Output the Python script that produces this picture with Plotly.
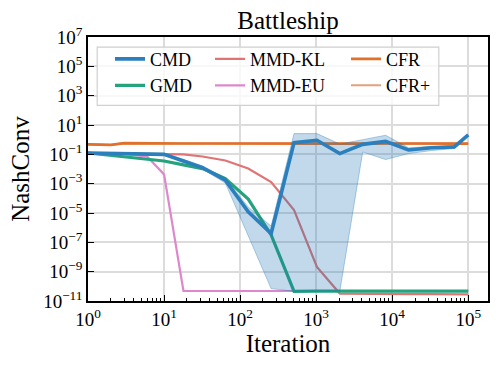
import plotly.graph_objects as go

# iterations at which NashConv was logged
iters = [1, 2, 3, 6, 10, 18, 32, 64, 128, 256, 512, 1024, 2048, 4096, 8192, 16384, 32768, 65536, 100000]

cmd = [0.123, 0.120, 0.117, 0.110, 0.100, 0.035, 0.0126, 1.7e-3, 1.2e-5, 4.0e-7,
       0.63, 0.91, 0.112, 0.48, 0.76, 0.20, 0.28, 0.32, 2.1]
cmd_hi = [0.132, 0.129, 0.126, 0.120, 0.110, 0.045, 0.016, 2.5e-3, 2.5e-5, 1.3e-6,
          2.6, 2.6, 0.5, 1.0, 2.0, 0.28, 0.35, 0.38, 2.2]
cmd_lo = [0.115, 0.112, 0.110, 0.100, 0.089, 0.028, 0.010, 1.1e-3, 2.5e-7, 7e-11,
          4.6e-11, 4.6e-11, 4.6e-11, 0.145, 0.044, 0.112, 0.18, 0.25, 2.0]
gmd = [0.123, 0.085, 0.069, 0.047, 0.035, 0.019, 0.0107, 2.2e-3, 8.9e-5, 3.2e-7,
       4.6e-11, 4.7e-11, 4.7e-11, 4.7e-11, 4.7e-11, 4.7e-11, 4.7e-11, 4.7e-11, 4.7e-11]
mmd_kl = [0.123, 0.120, 0.118, 0.114, 0.112, 0.100, 0.071, 0.038, 0.0107, 1.3e-3,
          1.6e-5, 2.1e-9, 3.2e-11, 3.0e-11, 3.0e-11, 2.9e-11, 2.9e-11, 2.8e-11, 2.8e-11]
mmd_eu = [0.123, 0.118, 0.110, 0.07, 4.3e-3, 4.8e-11, 4.8e-11, 4.8e-11, 4.8e-11, 4.8e-11,
          4.8e-11, 4.8e-11, 4.8e-11, 4.8e-11, 4.8e-11, 4.8e-11, 4.8e-11, 4.8e-11, 4.8e-11]
cfr = [0.48, 0.44, 0.58, 0.55, 0.58, 0.55, 0.55, 0.54, 0.55, 0.54,
       0.54, 0.55, 0.54, 0.54, 0.55, 0.54, 0.54, 0.54, 0.54]
cfr_plus = [0.48, 0.44, 0.58, 0.55, 0.58, 0.55, 0.55, 0.54, 0.55, 0.54,
            0.54, 0.55, 0.54, 0.54, 0.55, 0.54, 0.54, 0.54, 0.54]

x_exp = [0, 1, 2, 3, 4, 5]
y_exp = [7, 5, 3, 1, -1, -3, -5, -7, -9, -11]

FONT = "Liberation Serif"

fig = go.Figure()
# drawn back to front
fig.add_trace(go.Scatter(x=iters, y=cfr_plus, name='CFR+', mode='lines',
                         line=dict(color='#e3a07c', width=2), legend='legend3', legendrank=2))
fig.add_trace(go.Scatter(x=iters, y=cfr, name='CFR', mode='lines',
                         line=dict(color='#e0702a', width=2.6), legend='legend3', legendrank=1))
fig.add_trace(go.Scatter(x=iters, y=mmd_eu, name='MMD-EU', mode='lines',
                         line=dict(color='#dd88cc', width=2.2), legend='legend2', legendrank=2))
fig.add_trace(go.Scatter(x=iters, y=mmd_kl, name='MMD-KL', mode='lines',
                         line=dict(color='#e07474', width=2.2), legend='legend2', legendrank=1))
fig.add_trace(go.Scatter(x=iters, y=gmd, name='GMD', mode='lines',
                         line=dict(color='#24a37c', width=3.2), legend='legend', legendrank=2))
fig.add_trace(go.Scatter(x=iters, y=cmd_lo, mode='lines', showlegend=False, hoverinfo='skip',
                         line=dict(color='rgba(31,119,180,0.35)', width=1)))
fig.add_trace(go.Scatter(x=iters, y=cmd_hi, mode='lines', showlegend=False, hoverinfo='skip',
                         fill='tonexty', fillcolor='rgba(31,119,180,0.28)',
                         line=dict(color='rgba(31,119,180,0.35)', width=1)))
fig.add_trace(go.Scatter(x=iters, y=cmd, name='CMD', mode='lines',
                         line=dict(color='#2a7fbc', width=3.6), legend='legend', legendrank=1))

minor_x = [m * 10 ** k for k in range(0, 5) for m in range(2, 10)]


def pow_label(e):
    return '10<sup>%s</sup>' % (str(e).replace('-', '\u2212'))


axis_common = dict(type='log', showline=True, linecolor='black', linewidth=1.5, mirror=True,
                   ticks='inside', ticklen=6, tickwidth=1.2, tickcolor='black',
                   showgrid=True, gridcolor='#dcdcdc', gridwidth=1.5, zeroline=False,
                   tickmode='array', tickangle=0, automargin=False,
                   tickfont=dict(family=FONT, size=19, color='black'))

fig.update_xaxes(**axis_common, range=[0, 5.26],
                 tickvals=[10 ** e for e in x_exp], ticktext=[pow_label(e) for e in x_exp],
                 minor=dict(tickvals=minor_x, ticks='inside', ticklen=3, tickcolor='black', showgrid=False),
                 title=dict(text='Iteration', font=dict(family=FONT, size=25, color='black'), standoff=6))
fig.update_yaxes(**axis_common, range=[-11, 7],
                 tickvals=[10.0 ** e for e in y_exp], ticktext=[pow_label(e) for e in y_exp],
                 title=dict(text='NashConv', font=dict(family=FONT, size=25, color='black'), standoff=6))

leg = dict(bgcolor='rgba(0,0,0,0)', borderwidth=0, font=dict(family=FONT, size=18, color='black'),
           yanchor='top', y=0.986, xanchor='left', tracegroupgap=0, traceorder='normal')
fig.update_layout(
    width=498, height=370,
    margin=dict(l=88, r=10, t=37, b=69),
    plot_bgcolor='white', paper_bgcolor='white',
    title=dict(text='Battleship', x=0.5, xref='paper', xanchor='center',
               y=1 - 20 / 370, yref='container', yanchor='middle',
               font=dict(family=FONT, size=25, color='black')),
    legend=dict(leg, x=0.055),
    legend2=dict(leg, x=0.305),
    legend3=dict(leg, x=0.645),
    shapes=[dict(type='rect', xref='paper', yref='paper', x0=0.023, x1=0.877, y0=0.741, y1=0.962,
                 fillcolor='rgba(255,255,255,0.8)', line=dict(color='#d0d0d0', width=1.2),
                 layer='above')],
)

# drop the browser's default page margin so the 498x370 figure fills the window
fig.write_html("out.html", config={'displayModeBar': False},
               post_script="document.body.style.margin='0px';")
